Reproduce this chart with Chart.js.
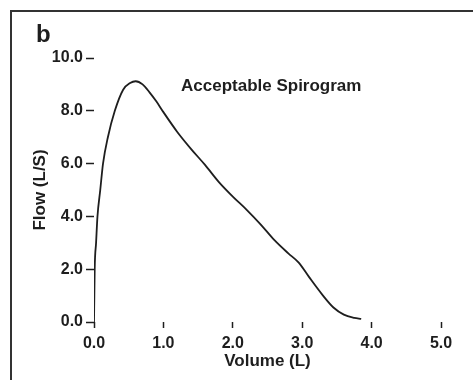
<!DOCTYPE html>
<html lang="en">
<head>
  <meta charset="UTF-8">
  <title>Acceptable Spirogram</title>
  <script src="https://cdn.jsdelivr.net/npm/chart.js"></script>
  <style>
    body { margin: 0; background: #fff; }
    #wrap { width: 473px; height: 380px; position: relative; }
  </style>
</head>
<body>
  <div id="wrap"><canvas id="spiro" width="473" height="380"></canvas></div>

  <script>
    // flow-volume curve
    const volume = [0, 0.005, 0.01, 0.03, 0.05, 0.09, 0.13, 0.2, 0.3, 0.42, 0.52, 0.6, 0.7, 0.8, 0.9, 1.0,
                    1.2, 1.4, 1.6, 1.8, 2.0, 2.2, 2.4, 2.6, 2.8, 2.95, 3.1, 3.3, 3.45, 3.6, 3.75, 3.85];
    const flow = [0, 1.0, 2.0, 3.0, 4.0, 5.0, 6.0, 7.0, 8.0, 8.8, 9.05, 9.12, 9.0, 8.7, 8.35, 7.95,
                  7.2, 6.55, 5.95, 5.3, 4.75, 4.25, 3.7, 3.1, 2.6, 2.25, 1.7, 1.0, 0.55, 0.28, 0.16, 0.12];
    const xTicks = [0, 1, 2, 3, 4, 5];
    const yTicks = [0, 2, 4, 6, 8, 10];
    const panelLetter = "b";
    const chartTitle = "Acceptable Spirogram";

    const FONT = '"Liberation Sans", Arial, sans-serif';
    const INK = '#1e1e1e';

    const frameAndText = {
      id: 'frameAndText',
      afterDraw(chart) {
        const ctx = chart.ctx;
        ctx.save();
        ctx.fillStyle = '#333';
        ctx.fillRect(10, 10, 463, 2);
        ctx.fillRect(10, 10, 2, 370);
        ctx.fillStyle = INK;
        ctx.font = 'bold 24px ' + FONT;
        ctx.textBaseline = 'alphabetic';
        ctx.fillText(panelLetter, 36, 42);
        ctx.font = 'bold 17px ' + FONT;
        ctx.textBaseline = 'middle';
        ctx.fillText(chartTitle, 181, 86);
        ctx.restore();
      }
    };

    const pts = volume.map((v, i) => ({ x: v, y: flow[i] }));

    new Chart(document.getElementById('spiro'), {
      type: 'scatter',
      data: {
        datasets: [{
          data: pts,
          showLine: true,
          borderColor: INK,
          borderWidth: 1.8,
          pointRadius: 0,
          cubicInterpolationMode: 'monotone',
          fill: false
        }]
      },
      options: {
        responsive: false,
        animation: false,
        layout: { padding: { left: 0, right: 32, top: 58, bottom: 0 } },
        plugins: { legend: { display: false }, tooltip: { enabled: false } },
        scales: {
          x: {
            type: 'linear', min: 0, max: 5,
            afterBuildTicks: s => { s.ticks = xTicks.map(v => ({ value: v })); },
            afterFit: s => { s.height = 58; },
            border: { display: false },
            grid: { drawOnChartArea: false, drawTicks: true, tickLength: 6, tickWidth: 1.5, tickColor: INK },
            ticks: { color: INK, font: { family: FONT, size: 16, weight: 'bold' }, padding: 6,
                     maxRotation: 0, callback: v => v.toFixed(1) },
            title: { display: true, text: 'Volume (L)', color: INK,
                     font: { family: FONT, size: 17, weight: 'bold' }, padding: { top: 0, bottom: 8 } }
          },
          y: {
            type: 'linear', min: 0, max: 10,
            afterBuildTicks: s => { s.ticks = yTicks.map(v => ({ value: v })); },
            afterFit: s => { s.width = 94; },
            border: { display: false },
            grid: { drawOnChartArea: false, drawTicks: true, tickLength: 8, tickWidth: 1.5, tickColor: INK },
            ticks: { color: INK, font: { family: FONT, size: 16, weight: 'bold' }, padding: 3,
                     callback: v => v.toFixed(1) },
            title: { display: true, text: 'Flow (L/S)', color: INK,
                     font: { family: FONT, size: 17, weight: 'bold' }, padding: { top: 30, bottom: 0 } }
          }
        }
      },
      plugins: [frameAndText]
    });
  </script>
</body>
</html>
